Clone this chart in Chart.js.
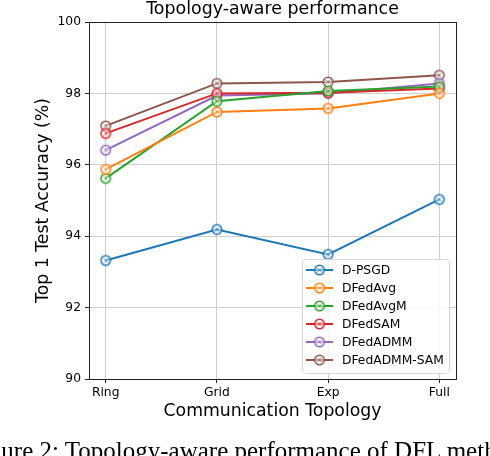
<!DOCTYPE html>
<html>
<head>
<meta charset="utf-8">
<script src="https://cdn.jsdelivr.net/npm/chart.js@4.4.1/dist/chart.umd.min.js"></script>
<style>
  html, body { margin: 0; padding: 0; background: #fff; overflow: hidden; }
  #wrap { position: relative; width: 490px; height: 456px; }
  #caption {
    position: absolute; left: -32px; top: 436px; white-space: nowrap;
    font-family: "Liberation Serif", serif; font-size: 25px; line-height: 30px; color: #000;
  }
</style>
</head>
<body>
<div id="wrap">
  <canvas id="chart" width="490" height="456"></canvas>
  <div id="caption">Figure 2: Topology-aware performance of DFL methods</div>
</div>
<script>
const topologies = ['Ring', 'Grid', 'Exp', 'Full'];
const methods = ['D-PSGD', 'DFedAvg', 'DFedAvgM', 'DFedSAM', 'DFedADMM', 'DFedADMM-SAM'];
const colors = ['#1f77b4', '#ff7f0e', '#2ca02c', '#d62728', '#9467bd', '#8c564b'];

const dpsgd = [93.32, 94.19, 93.49, 95.03];
const dfedavg = [95.87, 97.48, 97.58, 98.00];
const dfedavgm = [95.62, 97.78, 98.07, 98.19];
const dfedsam = [96.88, 98.00, 98.02, 98.14];
const dfedadmm = [96.41, 97.94, 98.00, 98.28];
const dfedadmmsam = [97.09, 98.28, 98.32, 98.51];
const seriesValues = [dpsgd, dfedavg, dfedavgm, dfedsam, dfedadmm, dfedadmmsam];

const yTicks = [90, 92, 94, 96, 98, 100];
const titleText = 'Topology-aware performance';

// circle marker with a small cross inside, like the matplotlib one
function makeMarker(color) {
    const c = document.createElement('canvas');
    c.width = 14;
    c.height = 14;
    const g = c.getContext('2d');
    g.strokeStyle = color;
    g.lineWidth = 1.6;
    g.beginPath();
    g.arc(7, 7, 4.7, 0, Math.PI * 2);
    g.fillStyle = 'rgba(255,255,255,0.5)';
    g.fill();
    g.stroke();
    g.globalAlpha = 0.7;
    g.lineWidth = 1;
    g.beginPath();
    g.moveTo(4.5, 4.5); g.lineTo(9.5, 9.5);
    g.moveTo(9.5, 4.5); g.lineTo(4.5, 9.5);
    g.stroke();
    return c;
}
const markers = colors.map(makeMarker);

const datasets = methods.map((name, i) => ({
    label: name,
    data: seriesValues[i].map((v, j) => ({ x: j, y: v })),
    borderColor: colors[i],
    backgroundColor: colors[i],
    borderWidth: 2,
    pointStyle: markers[i],
    pointRadius: 5,
    tension: 0
}));

const frameAndLegend = {
    id: 'frameAndLegend',
    afterDatasetsDraw(chart) {
        const ctx = chart.ctx;
        const a = chart.chartArea;
        ctx.save();
        ctx.strokeStyle = '#222';
        ctx.lineWidth = 1;
        ctx.strokeRect(Math.round(a.left) + 0.5, Math.round(a.top) + 0.5, Math.round(a.right - a.left), Math.round(a.bottom - a.top));

        // title centred over the axes, not the canvas
        ctx.fillStyle = '#000';
        ctx.font = '17.4px "DejaVu Sans"';
        ctx.textAlign = 'center';
        ctx.textBaseline = 'alphabetic';
        ctx.fillText(titleText, (a.left + a.right) / 2, 14);

        // legend box, lower right
        const bx = 302, by = 259, bw = 147, bh = 114;
        ctx.fillStyle = 'rgba(255,255,255,0.8)';
        ctx.strokeStyle = '#d6d6d6';
        ctx.beginPath();
        ctx.roundRect(bx + 0.5, by + 0.5, bw, bh, 3);
        ctx.fill();
        ctx.stroke();
        ctx.font = '12.3px "DejaVu Sans"';
        ctx.textAlign = 'left';
        ctx.textBaseline = 'middle';
        chart.data.datasets.forEach((ds, i) => {
            const y = by + 11 + i * 18;
            ctx.strokeStyle = ds.borderColor;
            ctx.lineWidth = 2;
            ctx.beginPath();
            ctx.moveTo(306, y);
            ctx.lineTo(333, y);
            ctx.stroke();
            ctx.drawImage(ds.pointStyle, 319.5 - 7, y - 7);
            ctx.fillStyle = '#000';
            ctx.fillText(ds.label, 342, y + 1);
        });
        ctx.restore();
    }
};

new Chart(document.getElementById('chart').getContext('2d'), {
    type: 'line',
    data: { datasets: datasets },
    plugins: [frameAndLegend],
    options: {
        responsive: false,
        animation: false,
        layout: { padding: { left: 29, right: 34, top: 22, bottom: 30 } },
        plugins: {
            legend: { display: false },
            tooltip: { enabled: false },
            title: { display: false }
        },
        scales: {
            x: {
                type: 'linear',
                min: -0.15,
                max: 3.15,
                afterBuildTicks: scale => { scale.ticks = topologies.map((t, i) => ({ value: i })); },
                afterFit: scale => { scale.height = 47; },
                ticks: {
                    callback: v => topologies[v],
                    color: '#000',
                    font: { family: 'DejaVu Sans', size: 12.3 },
                    padding: 2,
                    maxRotation: 0
                },
                grid: { color: '#cfcfcf', lineWidth: 1, tickLength: 4, tickColor: '#222' },
                border: { color: '#222', width: 1 },
                title: {
                    display: true,
                    text: 'Communication Topology',
                    color: '#000',
                    font: { family: 'DejaVu Sans', size: 17.3 }
                }
            },
            y: {
                min: 90,
                max: 100,
                afterBuildTicks: scale => { scale.ticks = yTicks.map(v => ({ value: v })); },
                afterFit: scale => { scale.width = 60; },
                ticks: {
                    color: '#000',
                    font: { family: 'DejaVu Sans', size: 12.3 },
                    padding: 4
                },
                grid: { color: '#cfcfcf', lineWidth: 1, tickLength: 4, tickColor: '#222' },
                border: { color: '#222', width: 1 },
                title: {
                    display: true,
                    text: 'Top 1 Test Accuracy (%)',
                    color: '#000',
                    font: { family: 'DejaVu Sans', size: 17.3 }
                }
            }
        }
    }
});
</script>
</body>
</html>
